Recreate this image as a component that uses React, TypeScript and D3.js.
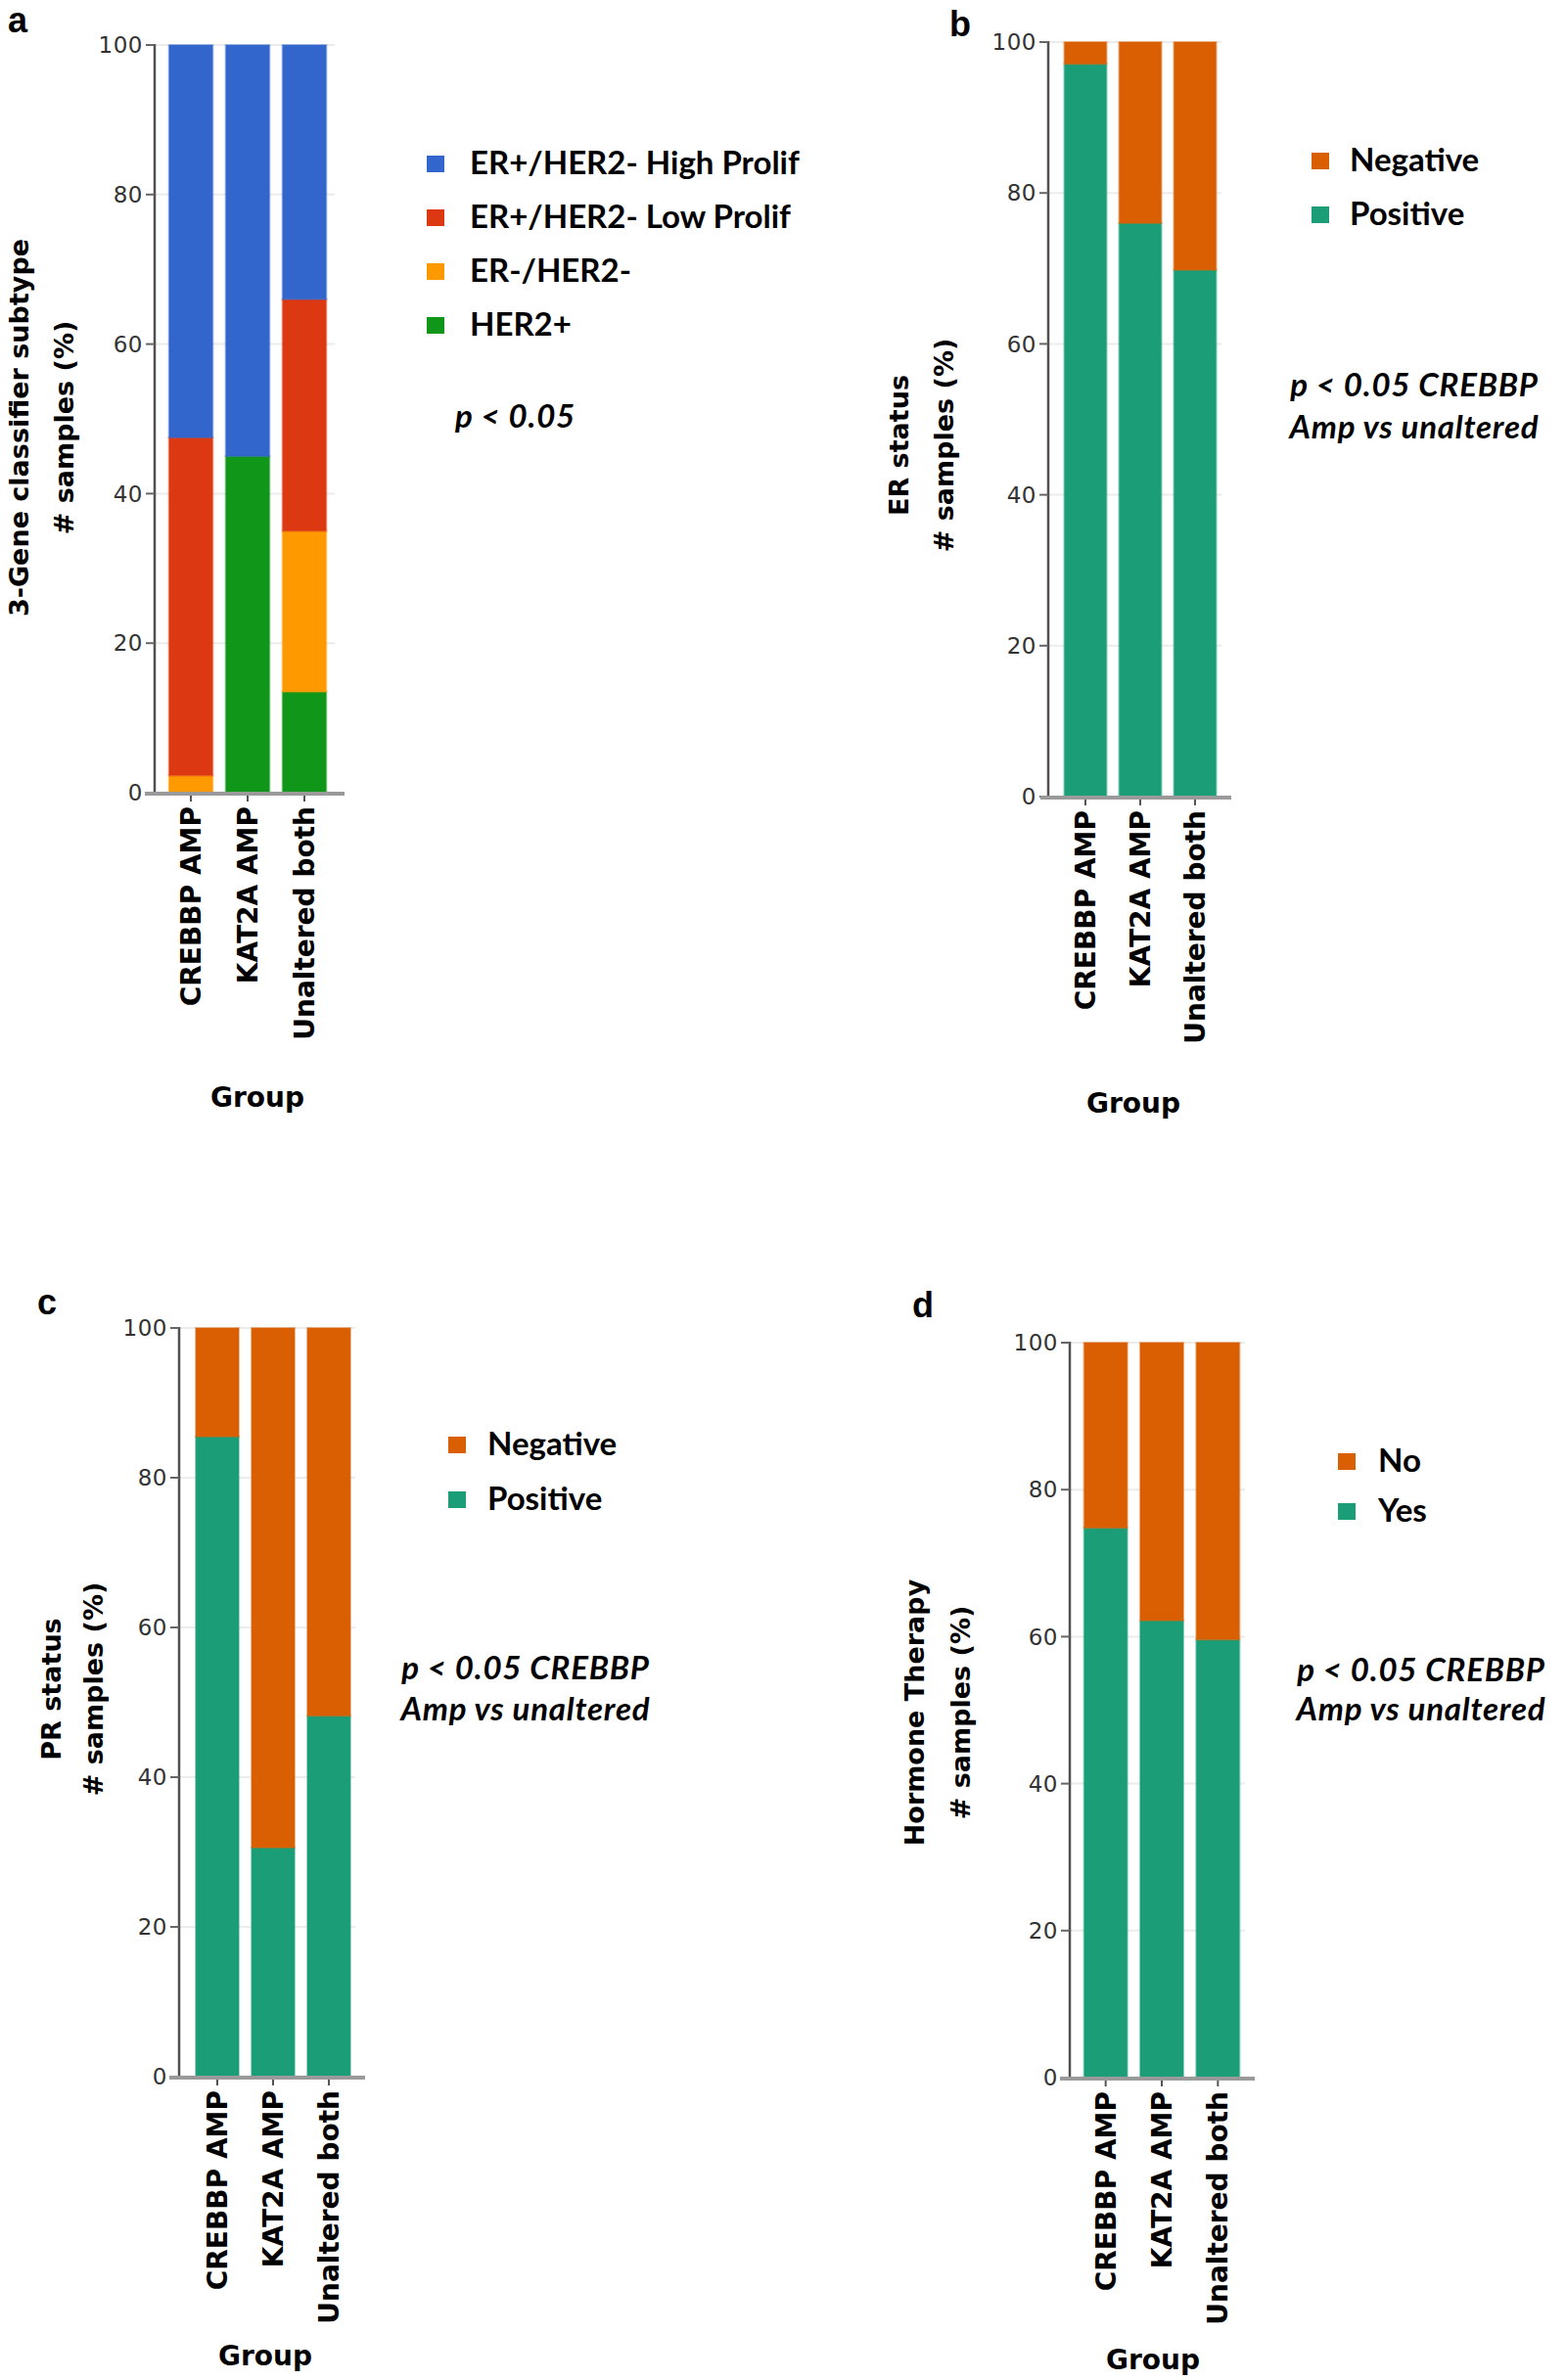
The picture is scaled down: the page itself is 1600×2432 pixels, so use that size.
import React from "react";
import * as d3 from "d3";

// ---------- data ----------
const groups = ["CREBBP AMP", "KAT2A AMP", "Unaltered both"];
const yTicks = [0, 20, 40, 60, 80, 100];

// panel a: 3-gene classifier subtype (stack order bottom -> top)
const subtypeKeys = ["HER2+", "ER-/HER2-", "ER+/HER2- Low Prolif", "ER+/HER2- High Prolif"];
const her2Pos = [0, 45, 13.5];
const erNegHer2Neg = [2.3, 0, 21.5];
const lowProlif = [45.2, 0, 31];
const highProlif = [52.5, 55, 34];
const subtypeColors = ["#109618", "#FF9900", "#DC3912", "#3366CC"];
const subtypeLegend = ["ER+/HER2- High Prolif", "ER+/HER2- Low Prolif", "ER-/HER2-", "HER2+"];

// panel b: ER status
const statusKeys = ["Positive", "Negative"];
const statusColors = ["#1B9E77", "#D95F02"];
const statusLegend = ["Negative", "Positive"];
const erPositive = [97.1, 76, 69.8];
const erNegative = [2.9, 24, 30.2];

// panel c: PR status
const prPositive = [85.5, 30.6, 48.2];
const prNegative = [14.5, 69.4, 51.8];

// panel d: hormone therapy
const hormoneKeys = ["Yes", "No"];
const hormoneLegend = ["No", "Yes"];
const hormoneYes = [74.8, 62.2, 59.6];
const hormoneNo = [25.2, 37.8, 40.4];

const pShort = ["p < 0.05"];
const pLong = ["p < 0.05 CREBBP", "Amp vs unaltered"];

// ---------- styles ----------
const SANS = "'Liberation Sans', Arial, Helvetica, sans-serif";
const DJV = "'DejaVu Sans', Verdana, sans-serif";
const CAL = "Lato, 'Open Sans', 'Noto Sans', sans-serif";

type PanelCfg = {
  letter: string;
  letterPos: [number, number];
  keys: string[];
  series: number[][];
  colors: string[];
  legend: string[];
  yRange: [number, number];
  axisX: number;
  band: [number, number];
  xAxisExtent: [number, number];
  titles: string[];
  titleX: number[];
  titleY: number;
  groupPos: [number, number];
  legendSq: number;
  legendY0: number;
  legendDy: number;
  legendTextX: number;
  pText: string[];
  pX: number;
  pY: number[];
  pAnchor: string;
};

const panels: PanelCfg[] = [
  {
    letter: "a",
    letterPos: [8, 33],
    keys: subtypeKeys,
    series: [her2Pos, erNegHer2Neg, lowProlif, highProlif],
    colors: subtypeColors,
    legend: subtypeLegend,
    yRange: [810, 46],
    axisX: 158,
    band: [166, 340],
    xAxisExtent: [148, 352],
    titles: ["3-Gene classifier subtype", "# samples (%)"],
    titleX: [29, 75],
    titleY: 437,
    groupPos: [263, 1131],
    legendSq: 436,
    legendY0: 167,
    legendDy: 55,
    legendTextX: 480,
    pText: pShort,
    pX: 465,
    pY: [437],
    pAnchor: "start",
  },
  {
    letter: "b",
    letterPos: [970, 37],
    keys: statusKeys,
    series: [erPositive, erNegative],
    colors: statusColors,
    legend: statusLegend,
    yRange: [814, 43],
    axisX: 1071,
    band: [1081, 1249],
    xAxisExtent: [1063, 1258],
    titles: ["ER status", "# samples (%)"],
    titleX: [928, 974],
    titleY: 455,
    groupPos: [1158, 1137],
    legendSq: 1340,
    legendY0: 164,
    legendDy: 55,
    legendTextX: 1379,
    pText: pLong,
    pX: 1445,
    pY: [405, 448],
    pAnchor: "middle",
  },
  {
    letter: "c",
    letterPos: [38, 1343],
    keys: statusKeys,
    series: [prPositive, prNegative],
    colors: statusColors,
    legend: statusLegend,
    yRange: [2122, 1357],
    axisX: 183,
    band: [193.5, 364.5],
    xAxisExtent: [173, 373],
    titles: ["PR status", "# samples (%)"],
    titleX: [62, 105],
    titleY: 1726,
    groupPos: [271, 2417],
    legendSq: 458,
    legendY0: 1476,
    legendDy: 56,
    legendTextX: 498,
    pText: pLong,
    pX: 537,
    pY: [1716, 1758],
    pAnchor: "middle",
  },
  {
    letter: "d",
    letterPos: [932, 1346],
    keys: hormoneKeys,
    series: [hormoneYes, hormoneNo],
    colors: statusColors,
    legend: hormoneLegend,
    yRange: [2123, 1372],
    axisX: 1093,
    band: [1101, 1273],
    xAxisExtent: [1083, 1282],
    titles: ["Hormone Therapy", "# samples (%)"],
    titleX: [944, 991],
    titleY: 1750,
    groupPos: [1178, 2421],
    legendSq: 1367,
    legendY0: 1493,
    legendDy: 51,
    legendTextX: 1408,
    pText: pLong,
    pX: 1452,
    pY: [1718, 1758],
    pAnchor: "middle",
  },
];

function Panel({ cfg }: { cfg: PanelCfg }) {
  const y = d3.scaleLinear().domain([0, 100]).range(cfg.yRange);
  const x = d3
    .scaleBand<string>()
    .domain(groups)
    .range(cfg.band)
    .paddingInner(0.23)
    .paddingOuter(0.115);
  const rows = groups.map((g, i) => {
    const r: any = { group: g };
    cfg.keys.forEach((k, j) => (r[k] = cfg.series[j][i]));
    return r;
  });
  const stacked = d3.stack<any>().keys(cfg.keys)(rows);
  const colorOf = d3.scaleOrdinal<string, string>().domain(cfg.keys).range(cfg.colors);
  const y0 = y(0);

  return (
    <g>
      <text
        x={cfg.letterPos[0]}
        y={cfg.letterPos[1]}
        fontFamily={SANS}
        fontWeight="bold"
        fontSize={36}
        fill="#000"
      >
        {cfg.letter}
      </text>

      {yTicks.map((t) => (
        <line
          key={"g" + t}
          x1={cfg.axisX}
          x2={cfg.xAxisExtent[1] - 10}
          y1={y(t)}
          y2={y(t)}
          stroke="#ececec"
          strokeWidth={2}
        />
      ))}

      {stacked.map((layer) => (
        <g key={layer.key}>
          {layer.map((d: any, i: number) => {
            const h = y(d[0]) - y(d[1]);
            if (h <= 0.01) return null;
            return (
              <rect
                key={i}
                x={x(d.data.group)}
                y={y(d[1])}
                width={x.bandwidth()}
                height={h}
                fill={colorOf(layer.key)}
                stroke={colorOf(layer.key)}
                strokeOpacity={0.45}
                strokeWidth={2}
              />
            );
          })}
        </g>
      ))}

      <line
        x1={cfg.axisX}
        x2={cfg.axisX}
        y1={y(100) - 1}
        y2={y0}
        stroke="#505050"
        strokeWidth={2.5}
      />
      {yTicks.map((t) => (
        <g key={"t" + t}>
          <line
            x1={cfg.axisX - 9}
            x2={cfg.axisX}
            y1={y(t)}
            y2={y(t)}
            stroke="#666"
            strokeWidth={2}
          />
          <text
            x={cfg.axisX - 12}
            y={y(t)}
            dy="0.36em"
            textAnchor="end"
            fontFamily={DJV}
            fontSize={23}
            letterSpacing={0.5}
            fill="#333"
          >
            {t}
          </text>
        </g>
      ))}

      <line
        x1={cfg.xAxisExtent[0]}
        x2={cfg.xAxisExtent[1]}
        y1={y0 + 1}
        y2={y0 + 1}
        stroke="#9a9a9a"
        strokeWidth={4}
      />
      {groups.map((g) => {
        const cx = (x(g) as number) + x.bandwidth() / 2;
        return (
          <g key={"c" + g}>
            <line x1={cx} x2={cx} y1={y0 + 3} y2={y0 + 9} stroke="#555" strokeWidth={2} />
            <text
              transform={`translate(${cx},${y0 + 14}) rotate(-90)`}
              dy="0.36em"
              textAnchor="end"
              fontFamily={DJV}
              fontWeight="bold"
              fontSize={28}
              fill="#000"
            >
              {g}
            </text>
          </g>
        );
      })}

      {cfg.titles.map((t, i) => (
        <text
          key={"yt" + i}
          transform={`translate(${cfg.titleX[i]},${cfg.titleY}) rotate(-90)`}
          textAnchor="middle"
          fontFamily={DJV}
          fontWeight="bold"
          fontSize={27}
          fill="#000"
        >
          {t}
        </text>
      ))}

      <text
        x={cfg.groupPos[0]}
        y={cfg.groupPos[1]}
        textAnchor="middle"
        fontFamily={DJV}
        fontWeight="bold"
        fontSize={28}
        fill="#000"
      >
        Group
      </text>

      {cfg.legend.map((k, i) => {
        const cy = cfg.legendY0 + i * cfg.legendDy;
        return (
          <g key={"l" + k}>
            <rect x={cfg.legendSq} y={cy - 8} width={18} height={17} fill={colorOf(k)} />
            <text
              x={cfg.legendTextX}
              y={cy + 11}
              fontFamily={CAL}
              fontWeight="bold"
              fontSize={33}
              fill="#000"
            >
              {k}
            </text>
          </g>
        );
      })}

      {cfg.pText.map((t, i) => (
        <text
          key={"p" + i}
          x={cfg.pX}
          y={cfg.pY[i]}
          textAnchor={cfg.pAnchor as any}
          fontFamily={CAL}
          fontWeight="bold"
          fontStyle="italic"
          fontSize={33}
          letterSpacing={0.8}
          fill="#000"
        >
          {t}
        </text>
      ))}
    </g>
  );
}

export default function App() {
  return (
    <svg
      width={1600}
      height={2432}
      viewBox="0 0 1600 2432"
      style={{ position: "absolute", left: 0, top: 0, display: "block", background: "#fff" }}
    >
      <rect x={0} y={0} width={1600} height={2432} fill="#fff" />
      {panels.map((p) => (
        <Panel key={p.letter} cfg={p} />
      ))}
    </svg>
  );
}
